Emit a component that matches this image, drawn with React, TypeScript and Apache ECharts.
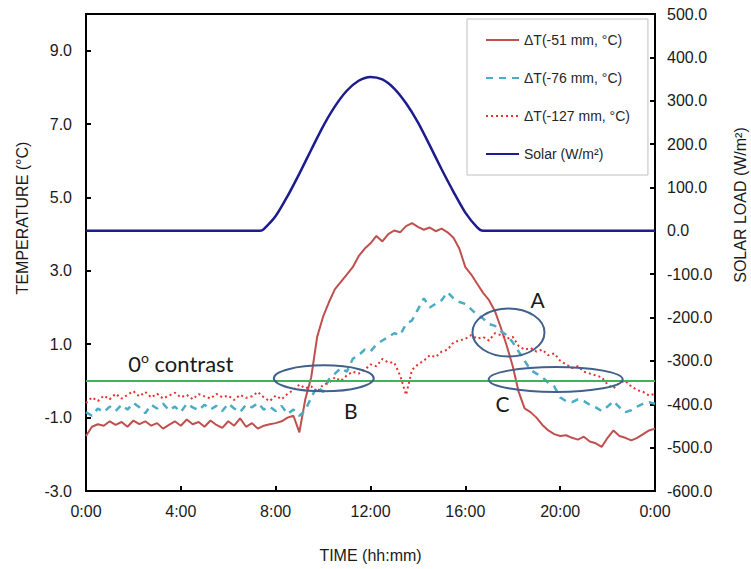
import React, { useEffect, useRef } from 'react';
import * as echarts from 'echarts';

// ---- data ----
const seriesNames = ['ΔT(-51 mm, °C)', 'ΔT(-76 mm, °C)', 'ΔT(-127 mm, °C)', 'Solar (W/m²)'];

// temperature differences, sampled every 15 minutes from 0:00 to 24:00
const stepHours = 0.25;
const dT51 = [
  -1.50, -1.25, -1.18, -1.22, -1.10, -1.20, -1.12, -1.25,
  -1.08, -1.18, -1.10, -1.22, -1.15, -1.30, -1.20, -1.10,
  -1.22, -1.05, -1.18, -1.12, -1.25, -1.08, -1.20, -1.28,
  -1.10, -1.22, -1.02, -1.25, -1.15, -1.30, -1.22, -1.18,
  -1.15, -1.10, -1.00, -0.95, -1.40, -0.50, 0.10, 1.20,
  1.75, 2.15, 2.50, 2.70, 2.90, 3.10, 3.40, 3.60,
  3.75, 3.95, 3.80, 4.00, 4.10, 4.05, 4.22, 4.30,
  4.20, 4.12, 4.18, 4.08, 4.15, 4.05, 3.90, 3.60,
  3.10, 2.90, 2.65, 2.40, 2.20, 1.90, 1.45, 0.95,
  0.40, -0.30, -0.75, -0.85, -1.00, -1.20, -1.35, -1.45,
  -1.50, -1.48, -1.55, -1.60, -1.52, -1.65, -1.70, -1.80,
  -1.55, -1.35, -1.50, -1.55, -1.62, -1.55, -1.45, -1.35,
  -1.30,
];
const dT76 = [
  -0.85, -0.95, -0.75, -0.85, -0.70, -0.82, -0.65, -0.78,
  -0.60, -0.72, -0.88, -0.65, -0.75, -0.62, -0.80, -0.70,
  -0.85, -0.62, -0.72, -0.80, -0.65, -0.78, -0.68, -0.82,
  -0.62, -0.75, -0.85, -0.65, -0.72, -0.60, -0.78, -0.70,
  -0.82, -0.68, -0.90, -0.78, -0.95, -0.80, -0.45, -0.15,
  -0.30, 0.05, 0.20, 0.35, 0.25, 0.60, 0.70, 0.85,
  0.80, 1.00, 1.10, 1.20, 1.30, 1.25, 1.55, 1.65,
  1.95, 2.25, 2.00, 2.10, 2.20, 2.42, 2.25, 2.15,
  2.10, 1.95, 1.80, 1.70, 1.55, 1.50, 1.35, 1.25,
  1.05, 0.80, 0.55, 0.30, 0.20, 0.10, -0.05, -0.15,
  -0.45, -0.55, -0.58, -0.50, -0.55, -0.65, -0.72, -0.82,
  -0.70, -0.55, -0.72, -0.85, -0.80, -0.70, -0.62, -0.58,
  -0.62,
];
const dT127 = [
  -0.60, -0.45, -0.55, -0.40, -0.50, -0.35, -0.48, -0.38,
  -0.28, -0.42, -0.30, -0.45, -0.35, -0.48, -0.40, -0.32,
  -0.45, -0.38, -0.50, -0.36, -0.42, -0.48, -0.35, -0.45,
  -0.40, -0.52, -0.38, -0.46, -0.42, -0.30, -0.45, -0.55,
  -0.40, -0.50, -0.35, -0.25, -0.10, -0.20, -0.15, -0.30,
  -0.10, -0.05, 0.10, 0.00, 0.15, 0.25, 0.20, 0.30,
  0.45, 0.40, 0.60, 0.50, 0.50, 0.15, -0.38, 0.30,
  0.45, 0.55, 0.70, 0.65, 0.80, 0.85, 1.05, 1.10,
  1.15, 1.25, 1.15, 1.20, 1.10, 1.30, 1.25, 1.15,
  1.20, 0.95, 0.85, 0.90, 0.80, 0.85, 0.70, 0.75,
  0.55, 0.45, 0.35, 0.40, 0.25, 0.20, 0.15, 0.10,
  -0.10, -0.20, -0.05, 0.00, -0.15, -0.25, -0.30, -0.40,
  -0.35,
];

// solar load (W/m²)
const solarHours = [0, 7.0, 7.35, 7.5, 8.0, 8.5, 9.0, 9.5, 10.0, 10.5, 11.0, 11.5, 12.0, 12.5, 13.0, 13.5, 14.0, 14.5, 15.0, 15.5, 16.0, 16.5, 16.75, 17.0, 24];
const solarLoad = [0, 0, 0, 4, 34, 80, 132, 187, 241, 287, 323, 346, 355, 349, 328, 294, 250, 197, 142, 90, 42, 8, 0, 0, 0];

const contrastLevel = 0;
const contrastLabel = { h: 4.0, t: 0.48 };

// annotation ellipses (data coords for centres)
const ellipseLabels = ['A', 'B', 'C'];
const ellipseCentres = [[17.82, 1.32], [10.03, 0.07], [19.81, 0.04]];
const ellipseRadii = [[36, 24], [50, 13], [67, 12.5]];
const ellipseLabelAt = [[19.05, 2.21], [11.17, -0.8], [17.57, -0.61]];

const W = 751;
const H = 569;
const FONT = '"Liberation Sans", Arial, sans-serif';
const CAL = 'Lato, "Open Sans", sans-serif';

export default function App() {
  const ref = useRef<HTMLDivElement>(null);

  useEffect(() => {
    document.body.style.margin = '0';
    const chart = echarts.init(ref.current!, null, { renderer: 'svg' });
    const toPairs = (arr: number[]) => arr.map((v, i) => [i * stepHours, v]);

    chart.setOption({
      animation: false,
      backgroundColor: '#ffffff',
      grid: {
        left: 86, right: 96, top: 14, bottom: 78,
        show: true, borderColor: '#000', borderWidth: 2, backgroundColor: 'transparent',
      },
      legend: {
        data: seriesNames,
        orient: 'vertical',
        left: 467, top: 19,
        padding: [14, 18, 14, 18],
        itemWidth: 33, itemHeight: 14, itemGap: 24,
        itemStyle: { opacity: 0 },
        borderColor: '#bfbfbf', borderWidth: 1, backgroundColor: '#fff',
        textStyle: { fontFamily: FONT, fontSize: 14, color: '#262626' },
      },
      xAxis: {
        type: 'value', min: 0, max: 24, interval: 4,
        name: 'TIME (hh:mm)', nameLocation: 'middle', nameGap: 56,
        nameTextStyle: { fontFamily: FONT, fontSize: 16, color: '#1a1a1a' },
        axisLine: { show: true, onZero: false, lineStyle: { color: '#000', width: 2 } },
        axisTick: { show: true, inside: true, length: 5, lineStyle: { color: '#000', width: 2 } },
        axisLabel: {
          fontFamily: FONT, fontSize: 16, color: '#1a1a1a', margin: 12,
          formatter: (v: number) => `${v % 24}:00`,
        },
        splitLine: { show: false },
      },
      yAxis: [
        {
          type: 'value', min: -3, max: 10, interval: 2, position: 'left',
          axisLine: { show: true, onZero: false, lineStyle: { color: '#000', width: 2 } },
          axisTick: { show: true, inside: true, length: 5, lineStyle: { color: '#000', width: 2 } },
          axisLabel: {
            fontFamily: FONT, fontSize: 16, color: '#1a1a1a', margin: 14,
            formatter: (v: number) => (v > 9.5 ? '' : v.toFixed(1)),
          },
          splitLine: { show: false },
        },
        {
          type: 'value', min: -600, max: 500, interval: 100, position: 'right',
          axisLine: { show: true, onZero: false, lineStyle: { color: '#000', width: 2 } },
          axisTick: { show: true, inside: true, length: 5, lineStyle: { color: '#000', width: 2 } },
          axisLabel: {
            fontFamily: FONT, fontSize: 16, color: '#1a1a1a', margin: 12,
            formatter: (v: number) => v.toFixed(1),
          },
          splitLine: { show: false },
        },
      ],
      series: [
        {
          name: seriesNames[3], type: 'line', yAxisIndex: 1, symbol: 'none', smooth: 0.25,
          data: solarHours.map((h, i) => [h, solarLoad[i]]),
          lineStyle: { color: '#1c1c8c', width: 2.5 }, itemStyle: { color: '#1c1c8c' },
          z: 3,
        },
        {
          name: seriesNames[0], type: 'line', symbol: 'none', data: toPairs(dT51),
          lineStyle: { color: '#c0504d', width: 2 }, itemStyle: { color: '#c0504d' },
          markLine: {
            silent: true, symbol: 'none', label: { show: false },
            lineStyle: { color: '#3cb35c', width: 2, type: 'solid' },
            data: [{ yAxis: contrastLevel }],
          },
          z: 4,
        },
        {
          name: seriesNames[1], type: 'line', symbol: 'none', data: toPairs(dT76),
          lineStyle: { color: '#4bacc6', width: 2.5, type: [7, 6] }, itemStyle: { color: '#4bacc6' },
          z: 4,
        },
        {
          name: seriesNames[2], type: 'line', symbol: 'none', data: toPairs(dT127),
          lineStyle: { color: '#e8312f', width: 2, type: [2, 3] }, itemStyle: { color: '#e8312f' },
          z: 4,
        },
      ],
    });

    const toPx = (h: number, t: number) =>
      chart.convertToPixel({ xAxisIndex: 0, yAxisIndex: 0 }, [h, t]) as number[];

    const graphics: any[] = [];
    ellipseLabels.forEach((lab, i) => {
      const c = toPx(ellipseCentres[i][0], ellipseCentres[i][1]);
      const l = toPx(ellipseLabelAt[i][0], ellipseLabelAt[i][1]);
      graphics.push({
        type: 'ellipse', silent: true, z: 20,
        shape: { cx: c[0], cy: c[1], rx: ellipseRadii[i][0], ry: ellipseRadii[i][1] },
        style: { fill: 'none', stroke: '#41608c', lineWidth: 2 },
      });
      graphics.push({
        type: 'text', silent: true, z: 20, x: l[0], y: l[1],
        style: { text: lab, fontFamily: CAL, fontSize: 21, fill: '#1a1a1a', align: 'center', verticalAlign: 'middle' },
      });
    });
    const cl = toPx(contrastLabel.h, contrastLabel.t);
    graphics.push({
      type: 'text', silent: true, z: 20, x: cl[0], y: cl[1],
      style: {
        text: '{n|0}{s|o}{n| contrast}',
        align: 'center', verticalAlign: 'middle',
        rich: {
          n: { fontFamily: CAL, fontSize: 22, fill: '#1a1a1a', lineHeight: 26 },
          s: { fontFamily: CAL, fontSize: 14, fill: '#1a1a1a', lineHeight: 26, verticalAlign: 'top', padding: [0, 0, 10, 0] },
        },
      },
    });
    graphics.push({
      type: 'text', silent: true, x: 22, y: 218, rotation: Math.PI / 2,
      style: { text: 'TEMPERATURE (°C)', fontFamily: FONT, fontSize: 16, fill: '#1a1a1a', align: 'center', verticalAlign: 'middle' },
    });
    graphics.push({
      type: 'text', silent: true, x: 740, y: 205, rotation: Math.PI / 2,
      style: { text: 'SOLAR LOAD (W/m²)', fontFamily: FONT, fontSize: 16, fill: '#1a1a1a', align: 'center', verticalAlign: 'middle' },
    });
    chart.setOption({ graphic: graphics });

    return () => chart.dispose();
  }, []);

  return <div ref={ref} style={{ width: W, height: H }} />;
}
